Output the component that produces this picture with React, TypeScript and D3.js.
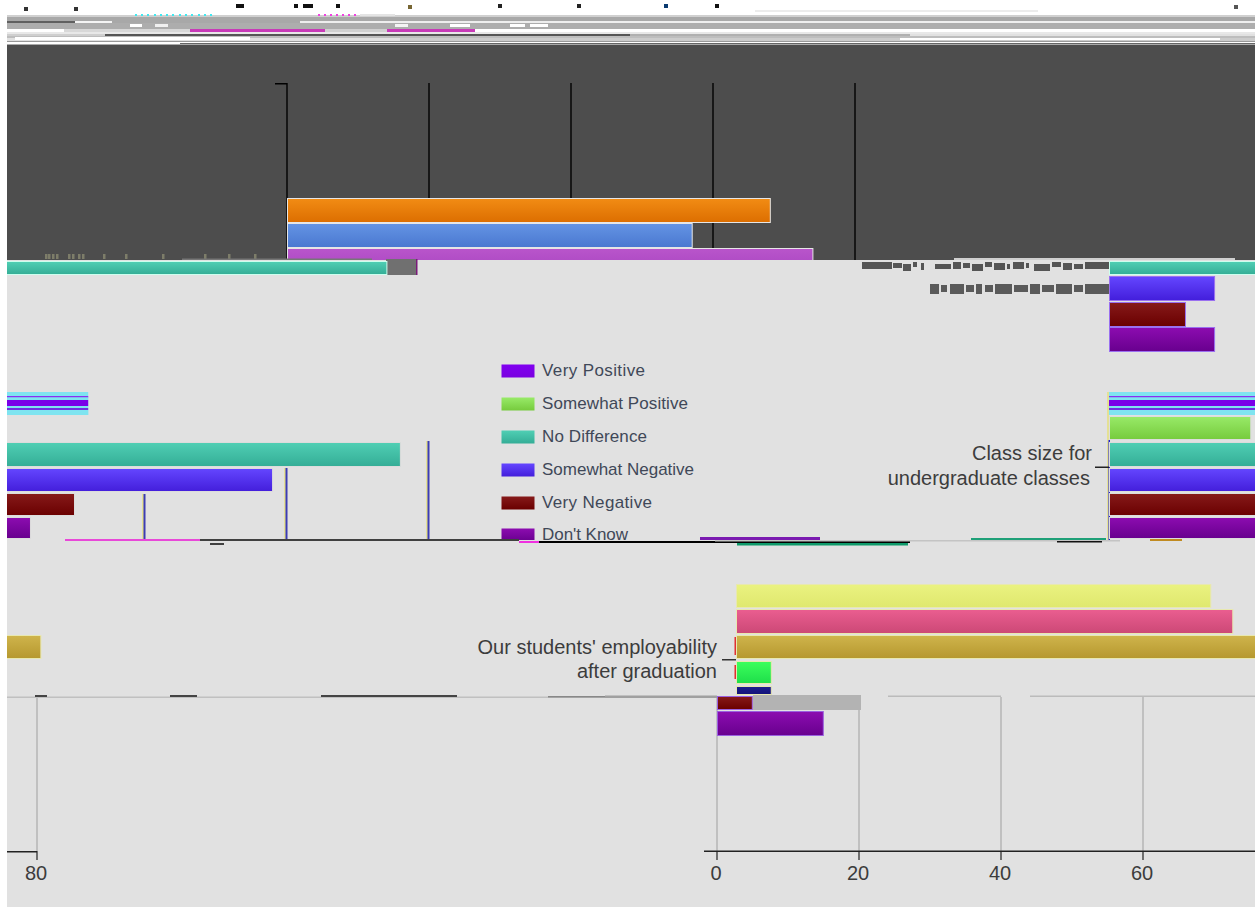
import React from "react";
import * as d3 from "d3";

// ---------- chart data ----------
const responses = ["Very Positive", "Somewhat Positive", "No Difference", "Somewhat Negative", "Very Negative", "Don't Know"];
const axisTicks = [0, 20, 40, 60, 80];
const topBlockValues = [68, 57, 74];
const upperRowValues = [74, 14.8, 10.7, 14.8];
const classSizeValues = [32, 19.9, 75.9, 57.9, 30, 23.8];
const employabilityValues = [66.8, 69.9, 77.8, 4.9, 4.9];
const lowerRowValues = [4.9, 14.9];
const classSizeLabel = ["Class size for", "undergraduate classes"];
const employabilityLabel = ["Our students' employability", "after graduation"];

// ---------- layout and styling ----------
const W = 1258, H = 907, L = 7, R = 1255, PERIOD = R - L;
const UNIT = 7.1;
const len = d3.scaleLinear().domain([0, 100]).range([0, 100 * UNIT]);

const grads: Record<string, [string, string]> = {
  orange: ["#f28c14", "#dc6e00"], blue2: ["#6494e4", "#4a78d0"], purple2: ["#b955cb", "#a845c0"],
  vpos: ["#8000f0", "#7a00e0"], spos: ["#98ea68", "#76cb3d"], teal: ["#50cfb4", "#34ad96"],
  sneg: ["#6446ff", "#431edb"], vneg: ["#861a1a", "#6a0000"], dk: ["#8c0cb0", "#68008e"],
  yellow: ["#eaf280", "#dfe86e"], pink: ["#ea5e90", "#cc4876"], gold: ["#cfb44c", "#b6982e"],
  green: ["#3cff5c", "#1ede4a"], navy: ["#1c1c90", "#141478"],
};
const respKeys = ["vpos", "spos", "teal", "sneg", "vneg", "dk"];
const legendWidths = [103, 146, 105, 152, 110, 86];

const gridDark = [287, 429, 571, 713, 855];

// glitch rows of the top band: y, h, x1, x2, colour
const topRows: [number, number, number, number, string][] = [
  [15, 2, 7, 1255, "#d0d0d0"], [17, 6, 7, 1255, "#a8a8a8"], [21, 2, 7, 75, "#606060"], [21, 2, 75, 112, "#f4f4f4"],
  [21, 2, 300, 1255, "#eeeeee"], [23, 6, 7, 1255, "#adadad"], [24, 3, 130, 142, "#ffffff"], [24, 3, 155, 168, "#f0f0f0"],
  [24, 3, 395, 408, "#f4f4f4"], [24, 3, 450, 470, "#ffffff"], [24, 3, 510, 525, "#ffffff"], [24, 3, 530, 548, "#ffffff"],
  [29, 3, 7, 64, "#ffffff"], [29, 3, 64, 190, "#d8d8d8"], [29, 3, 190, 325, "#c83ab8"], [29, 3, 325, 387, "#d0d0d0"],
  [29, 3, 387, 475, "#c83ab8"], [29, 3, 475, 910, "#ffffff"], [29, 3, 910, 1255, "#ffffff"],
  [32, 2, 7, 1255, "#e8e8e8"], [34, 2, 7, 105, "#cfcfcf"], [34, 3, 105, 630, "#555555"], [34, 3, 630, 910, "#b0b0b0"],
  [36, 2, 7, 1255, "#bdbdbd"], [37, 3, 15, 250, "#ffffff"], [38, 3, 400, 1255, "#cccccc"], [38, 2, 900, 1220, "#ffffff"],
  [41, 1, 7, 1255, "#999999"], [42, 2, 7, 1255, "#ffffff"], [43, 1, 180, 1255, "#666666"], [44, 1, 7, 1255, "#aaaaaa"],
];
const topBlobs: [number, number, number, string][] = [
  [24, 9, 4, "#333"], [74, 9, 4, "#333"], [236, 6, 8, "#111"], [294, 6, 4, "#111"], [303, 6, 10, "#111"], [336, 6, 4, "#111"],
  [408, 7, 4, "#776633"], [498, 6, 4, "#222"], [577, 6, 4, "#222"], [664, 6, 4, "#0a3a70"], [715, 6, 4, "#111"], [1234, 7, 4, "#555"],
];
const cyanDots = [135, 141, 147, 154, 160, 166, 172, 179, 185, 191, 198, 204, 210];
const magDots = [318, 324, 330, 336, 342, 348, 354];

const garble1 = [[862, 30], [893, 9], [903, 8], [913, 4], [921, 3], [935, 16], [953, 8], [963, 7], [972, 11], [985, 7], [994, 11], [1007, 3], [1013, 11], [1026, 3], [1034, 16], [1052, 9], [1063, 9], [1074, 9], [1085, 24]];
const garble2 = [[930, 9], [941, 6], [950, 14], [966, 8], [976, 6], [985, 8], [995, 17], [1014, 14], [1030, 10], [1042, 12], [1056, 16], [1074, 9], [1085, 24]];
const darkSpecks = [45, 48, 52, 56, 68, 72, 78, 82, 103, 125, 162, 204, 228, 254];

const Bar = ({ x0, y, h, v, k, stroke = "#e6e6e6", clip }: any) => (
  <g clipPath={clip}>
    {[0, -PERIOD].map((s) => (
      <rect key={s} x={x0 + s + 0.5} y={y + 0.5} width={len(v)} height={h - 1} fill={`url(#g-${k})`} stroke={stroke} strokeWidth={1} />
    ))}
  </g>
);

const Seg = ({ x1, x2, y, h = 2, c }: any) => <rect x={x1} y={y} width={x2 - x1} height={h} fill={c} />;

export default function App() {
  const textFont = "'Liberation Sans', Arial, sans-serif";
  const upperY = [261, 276, 302, 327];
  const classY = [392, 416, 442, 468, 493, 517];
  const classH = [23, 24, 25, 24, 23, 22];
  const empY = [584, 609, 635, 661, 686];
  const empH = [24, 25, 24, 23, 9];
  const empKeys = ["yellow", "pink", "gold", "green", "navy"];
  const legendY = [364, 397, 430, 463, 496, 528];
  return (
    <svg width={W} height={H} viewBox={`0 0 ${W} ${H}`} style={{ position: "absolute", left: 0, top: 0, background: "#fff" }}>
      <defs>
        {Object.entries(grads).map(([k, [a, b]]) => (
          <linearGradient key={k} id={`g-${k}`} x1="0" y1="0" x2="0" y2="1">
            <stop offset="0" stopColor={a} />
            <stop offset="1" stopColor={b} />
          </linearGradient>
        ))}
        <clipPath id="img"><rect x={L} y={0} width={R - L} height={H} /></clipPath>
        <clipPath id="dark"><rect x={L} y={45} width={R - L} height={215} /></clipPath>
        <clipPath id="leg"><rect x={480} y={350} width={260} height={190} /></clipPath>
      </defs>
      <g clipPath="url(#img)">
        <rect x={L} y={15} width={R - L} height={H - 15} fill="#e1e1e1" />
        {/* top band */}
        {topRows.map(([y, h, a, b, c], i) => <Seg key={i} x1={a} x2={b} y={y} h={h} c={c} />)}
        {topBlobs.map(([x, y, w, c], i) => <rect key={i} x={x} y={y - 2} width={w} height={4} fill={c} />)}
        {cyanDots.map((x) => <rect key={x} x={x} y={14} width={2} height={2} fill="#40e8f0" />)}
        {magDots.map((x) => <rect key={x} x={x} y={14} width={2} height={2} fill="#f040e0" />)}
        <rect x={360} y={14} width={35} height={2} fill="#e4e4e4" />
        <rect x={755} y={10} width={283} height={2} fill="#ececec" />

        {/* dark panel */}
        <rect x={L} y={45} width={R - L} height={215} fill="#4d4d4d" />
        <Seg x1={275} x2={287} y={83} h={1.5} c="#000" />
        {gridDark.map((x) => <line key={x} x1={x} x2={x} y1={83} y2={260} stroke="#000" strokeWidth={1.4} />)}
        <g clipPath="url(#dark)">
          {topBlockValues.map((v, i) => (
            <Bar key={i} x0={287} y={198 + i * 25} h={25} v={v} k={["orange", "blue2", "purple2"][i]} />
          ))}
        </g>
        {darkSpecks.map((x) => <rect key={x} x={x} y={254} width={2.5} height={5} fill="#8a8a70" opacity={0.8} />)}
        <Seg x1={182} x2={372} y={258.5} h={1.5} c="#777" />
        <Seg x1={954} x2={1235} y={258} h={2} c="#cfcfcf" />

        {/* row under dark panel */}
        <rect x={386} y={259} width={30} height={16} fill="#707070" />
        <rect x={416} y={259} width={1.5} height={16} fill="#7a1a7a" />
        {upperRowValues.map((v, i) => (
          <Bar key={i} x0={1109} y={upperY[i]} h={i === 0 ? 14 : 25} v={v} k={["teal", "sneg", "vneg", "dk"][i]} stroke={i === 0 ? "#cfe" : "#9a70f0"} />
        ))}
        {garble1.map(([x, w], i) => <rect key={i} x={x} y={262 + (i % 3)} width={w} height={i % 2 ? 5 : 7} fill="#555" />)}
        {garble2.map(([x, w], i) => <rect key={i} x={x} y={284 + (i % 2)} width={w} height={i % 2 ? 7 : 10} fill="#5a5a5a" />)}

        {/* class size group */}
        {[144, 286, 428].map((x, i) => (
          <g key={x}>
            <rect x={x - 1.5} y={[494, 468, 441][i]} width={1} height={540 - [494, 468, 441][i]} fill="#e8e04a" />
            <rect x={x - 0.5} y={[494, 468, 441][i]} width={2} height={540 - [494, 468, 441][i]} fill="#3c3cb4" />
          </g>
        ))}
        <Seg x1={1107.5} x2={1108.5} y={392} h={148} c="#e8e04a" />
        <Seg x1={1108.5} x2={1110} y={440} h={100} c="#2020d0" />
        {classSizeValues.map((v, i) =>
          i === 0 ? null : <Bar key={i} x0={1109} y={classY[i]} h={classH[i]} v={v} k={respKeys[i]} stroke="#dcdcdc" />
        )}
        {[[392, 23, "#7fe4f0"], [396, 1.5, "#8a30f0"], [397.5, 2, "#7fe4f0"], [400, 6, "#7a00e8"], [406, 1.5, "#7fe4f0"], [408, 2, "#7030e0"], [410, 5, "#7fe4f0"]].map(([y, h, c]: any, i) => (
          <g key={i}>
            <rect x={1109} y={y} width={146} height={h} fill={c} />
            <rect x={L} y={y} width={len(classSizeValues[0]) - 146} height={h} fill={c} />
          </g>
        ))}
        <Seg x1={1095} x2={1109} y={466.5} h={1.5} c="#222" />
        {classSizeLabel.map((t, i) => (
          <text key={t} x={1092 - i * 2} y={460 + i * 25} textAnchor="end" fontFamily={textFont} fontSize={20} fill="#3c3c3c">{t}</text>
        ))}

        {/* legend */}
        <g clipPath="url(#leg)">
          {responses.map((r, i) => (
            <g key={r}>
              <rect x={501.5} y={legendY[i] + 0.5} width={33} height={13} fill={`url(#g-${respKeys[i]})`} />
              <text x={542} y={legendY[i] + 12} fontFamily={textFont} fontSize={17} fill="#404858" textLength={legendWidths[i]} lengthAdjust="spacing">{r}</text>
            </g>
          ))}
        </g>

        {/* glitch strip at y≈540 */}
        <Seg x1={65} x2={200} y={539} c="#e848d8" />
        <Seg x1={200} x2={519} y={539} c="#404040" />
        <Seg x1={210} x2={224} y={543} c="#404040" />
        <Seg x1={519} x2={539} y={541} c="#f030e0" />
        <Seg x1={539} x2={910} y={541} h={2} c="#000" />
        <Seg x1={700} x2={820} y={537} h={3} c="#7a1ab0" />
        <Seg x1={715} x2={1120} y={540} h={1.5} c="#c4c4c4" />
        <Seg x1={737} x2={908} y={543} h={2.5} c="#0e9a6a" />
        <Seg x1={971} x2={1106} y={538} h={2} c="#1ea078" />
        <Seg x1={1057} x2={1102} y={541} h={1.5} c="#111" />
        <Seg x1={1150} x2={1182} y={539} h={2} c="#c08a20" />

        {/* employability group */}
        {employabilityValues.map((v, i) => (
          <Bar key={i} x0={736} y={empY[i]} h={empH[i]} v={v} k={empKeys[i]} stroke="#e8e8b0" />
        ))}
        <Seg x1={722} x2={736} y={659} h={1.5} c="#333" />
        <Seg x1={734.5} x2={736} y={637} h={18} c="#e03030" />
        <Seg x1={734.5} x2={736} y={665} h={14} c="#e03030" />
        {employabilityLabel.map((t, i) => (
          <text key={t} x={717} y={654 + i * 24} textAnchor="end" fontFamily={textFont} fontSize={20} fill="#3c3c3c">{t}</text>
        ))}

        {/* lower axis block */}
        {axisTicks.map((t) => {
          const x = (717 + len(t) - L) % PERIOD + L;
          return <line key={t} x1={x} x2={x} y1={697} y2={851} stroke="#b8b8b8" strokeWidth={1.6} />;
        })}
        <Seg x1={7} x2={640} y={696.5} h={1.5} c="#c0c0c0" />
        <Seg x1={35} x2={47} y={695} c="#444" />
        <Seg x1={170} x2={197} y={695} c="#444" />
        <Seg x1={321} x2={457} y={695} c="#444" />
        <Seg x1={548} x2={605} y={696} h={1.5} c="#888" />
        <Seg x1={605} x2={717} y={695.5} h={2.5} c="#a0a0a0" />
        <Seg x1={888} x2={1001} y={695.5} h={1.5} c="#bbb" />
        <Seg x1={1030} x2={1255} y={695.5} h={1.5} c="#bbb" />
        <rect x={753} y={695} width={108} height={15} fill="#b3b3b3" />
        {lowerRowValues.map((v, i) => (
          <Bar key={i} x0={717} y={[696, 711][i]} h={[14, 25][i]} v={v} k={["vneg", "dk"][i]} stroke="#9a60e0" />
        ))}
        <Seg x1={7} x2={37} y={851} h={1.5} c="#222" />
        <Seg x1={704} x2={1255} y={850.5} h={1.5} c="#222" />
        {axisTicks.map((t) => {
          const x = (717 + len(t) - L) % PERIOD + L;
          return (
            <g key={t}>
              <line x1={x} x2={x} y1={851} y2={860} stroke="#222" strokeWidth={1.2} />
              <text x={x - 1} y={880} textAnchor="middle" fontFamily={textFont} fontSize={20} fill="#3c3c3c">{t}</text>
            </g>
          );
        })}
      </g>
    </svg>
  );
}
